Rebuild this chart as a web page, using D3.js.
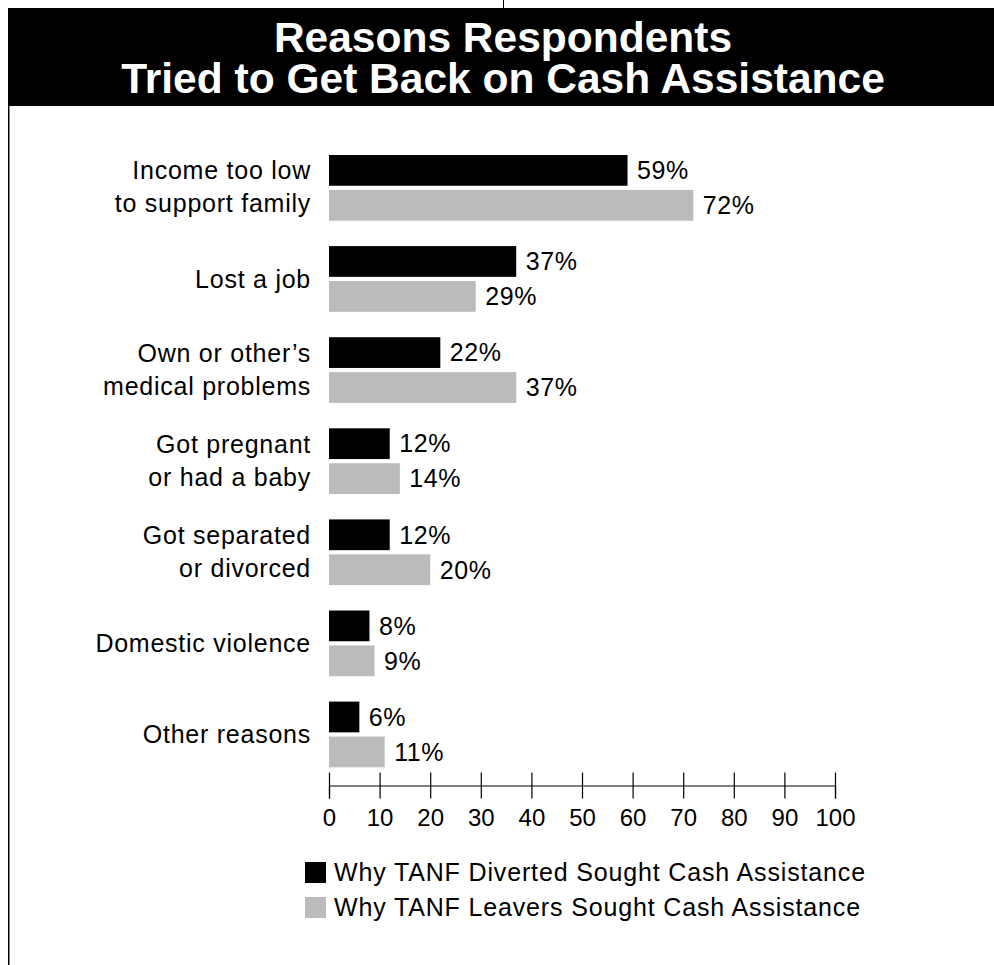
<!DOCTYPE html>
<html>
<head>
<meta charset="utf-8">
<script src="https://cdn.jsdelivr.net/npm/d3@7"></script>
<style>
  html, body { margin: 0; padding: 0; background: #fff; }
  svg { display: block; }
  text { font-family: "Liberation Sans", Arial, Helvetica, sans-serif; }
</style>
</head>
<body>
<script>
const titleLines = ["Reasons Respondents", "Tried to Get Back on Cash Assistance"];
const categories = [
  ["Income too low", "to support family"],
  ["Lost a job"],
  ["Own or other\u2019s", "medical problems"],
  ["Got pregnant", "or had a baby"],
  ["Got separated", "or divorced"],
  ["Domestic violence"],
  ["Other reasons"]
];
const diverted = [59, 37, 22, 12, 12, 8, 6];
const leavers = [72, 29, 37, 14, 20, 9, 11];
const seriesNames = ["Why TANF Diverted Sought Cash Assistance", "Why TANF Leavers Sought Cash Assistance"];
const seriesColors = ["#000000", "#bbbbbb"];
const tickValues = [0, 10, 20, 30, 40, 50, 60, 70, 80, 90, 100];

const W = 994, H = 965;
const svg = d3.select("body").append("svg").attr("width", W).attr("height", H);

// frame elements
svg.append("line").attr("x1", 503.5).attr("x2", 503.5).attr("y1", 0).attr("y2", 9)
  .attr("stroke", "#000").attr("stroke-width", 1);
svg.append("rect").attr("x", 8).attr("y", 8).attr("width", W - 8).attr("height", 98).attr("fill", "#000");
svg.append("line").attr("x1", 8.75).attr("x2", 8.75).attr("y1", 106).attr("y2", H)
  .attr("stroke", "#000").attr("stroke-width", 1.5);

// title
svg.append("g").selectAll("text").data(titleLines).join("text")
  .attr("x", 503).attr("y", (d, i) => 52 + i * 41)
  .attr("text-anchor", "middle")
  .attr("fill", "#fff").attr("font-weight", "bold").attr("font-size", 42.5)
  .text(d => d);

// scales
const x = d3.scaleLinear().domain([0, 100]).range([329, 835]);
const idx = d3.range(categories.length);
const y = d3.scaleBand().domain(idx).range([155, 767.3]).paddingInner(0.279).paddingOuter(0);
const ySub = d3.scaleBand().domain([0, 1]).range([0, y.bandwidth()]).paddingInner(0.12).paddingOuter(0);

const rows = idx.map(i => ({ i, vals: [diverted[i], leavers[i]] }));

const g = svg.append("g");
const grp = g.selectAll("g.grp").data(rows).join("g").attr("class", "grp")
  .attr("transform", d => `translate(0,${y(d.i)})`);

grp.selectAll("rect").data(d => d.vals.map((v, s) => ({ v, s }))).join("rect")
  .attr("x", x(0)).attr("y", d => ySub(d.s))
  .attr("width", d => x(d.v) - x(0)).attr("height", ySub.bandwidth())
  .attr("fill", d => seriesColors[d.s]);

grp.selectAll("text.val").data(d => d.vals.map((v, s) => ({ v, s }))).join("text")
  .attr("class", "val")
  .attr("x", d => x(d.v) + 9.5)
  .attr("y", d => ySub(d.s) + ySub.bandwidth() / 2 + 8.8)
  .attr("font-size", 25).attr("letter-spacing", 0.6).attr("fill", "#000")
  .text(d => d.v + "%");

// category labels
grp.each(function (d) {
  const lines = categories[d.i];
  const c = y.bandwidth() / 2;
  const base = lines.length === 1 ? c + 9 : c - 8.5;
  d3.select(this).selectAll("text.cat").data(lines).join("text")
    .attr("class", "cat")
    .attr("x", 311).attr("y", (l, k) => base + k * 33)
    .attr("text-anchor", "end")
    .attr("font-size", 25).attr("letter-spacing", 0.75).attr("fill", "#000")
    .text(l => l);
});

// axis
const axis = d3.axisBottom(x).tickValues(tickValues).tickSizeOuter(0).tickSize(13).tickFormat(d3.format("d"));
const ax = svg.append("g").attr("transform", "translate(0,785.5)").call(axis);
ax.select(".domain").attr("stroke", "#000").attr("stroke-width", 1.2);
ax.selectAll(".tick line").attr("y1", -13).attr("y2", 13).attr("stroke", "#000").attr("stroke-width", 1.2);
ax.selectAll(".tick text").attr("y", 40.5).attr("dy", 0)
  .attr("font-size", 24).attr("fill", "#000")
  .attr("font-family", "'Liberation Sans', Arial, sans-serif");

// legend
const leg = svg.append("g");
const li = leg.selectAll("g").data(seriesNames).join("g")
  .attr("transform", (d, i) => `translate(305,${862 + i * 35})`);
li.append("rect").attr("width", 21).attr("height", 21).attr("fill", (d, i) => seriesColors[i]);
li.append("text").attr("x", 29).attr("y", 19)
  .attr("font-size", 25).attr("letter-spacing", 0.85).attr("fill", "#000")
  .text(d => d);
</script>
</body>
</html>
